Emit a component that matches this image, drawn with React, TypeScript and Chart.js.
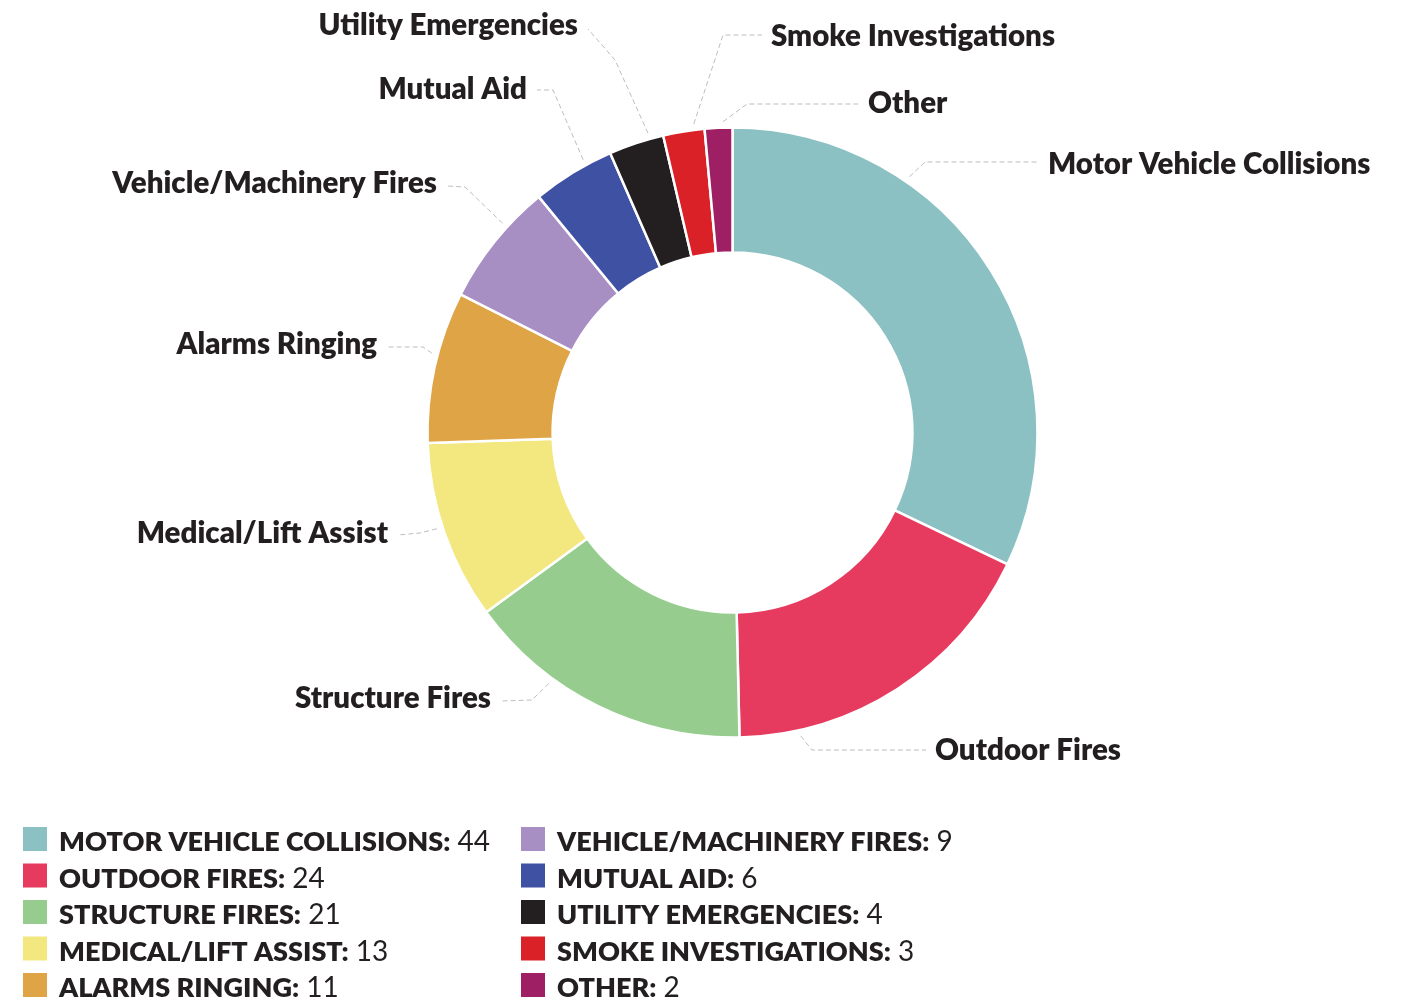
import React, { useEffect, useRef } from "react";
import { Chart, registerables } from "chart.js";

Chart.register(...registerables);

const CATEGORIES = [
  "Motor Vehicle Collisions",
  "Outdoor Fires",
  "Structure Fires",
  "Medical/Lift Assist",
  "Alarms Ringing",
  "Vehicle/Machinery Fires",
  "Mutual Aid",
  "Utility Emergencies",
  "Smoke Investigations",
  "Other",
];
const VALUES = [44, 24, 21, 13, 11, 9, 6, 4, 3, 2];
const COLORS = [
  "#8cc1c3",
  "#e63a5e",
  "#96cd8f",
  "#f3e77f",
  "#dea446",
  "#a78fc4",
  "#3e51a3",
  "#231f20",
  "#da2128",
  "#9e1f63",
];

// where along each slice (0..1) the leader line touches the ring
const ANCHOR_FRACTION = [0.3, 0.82, 0.68, 0.53, 0.58, 0.65, 0.68, 0.75, 0.76, 0.67];

// label placement relative to the doughnut centre:
// side, text edge x, text baseline y, elbow x, elbow y, line end y
type Place = { side: "left" | "right"; tx: number; by: number; ex: number; ey: number; ly: number };
const LABEL_PLACES: Place[] = [
  { side: "right", tx: 315.5, by: -258.5, ex: 192.5, ey: -270.5, ly: -270.5 },
  { side: "right", tx: 202.5, by: 327.5, ex: 79.5, ey: 317.5, ly: 317.5 },
  { side: "left", tx: -241.5, by: 275.5, ex: -200.5, ey: 267.5, ly: 268.5 },
  { side: "left", tx: -344.5, by: 110.8, ex: -312.5, ey: 100.5, ly: 102.5 },
  { side: "left", tx: -355.5, by: -78.2, ex: -309.5, ey: -85.5, ly: -85.5 },
  { side: "left", tx: -295.5, by: -239.2, ex: -267.5, ey: -245.5, ly: -246.5 },
  { side: "left", tx: -205.5, by: -333.5, ex: -179.5, ey: -342.5, ly: -342.5 },
  { side: "left", tx: -154.5, by: -397.5, ex: -117.5, ey: -372.5, ly: -403.5 },
  { side: "right", tx: 38.5, by: -386.5, ex: -9.5, ey: -397.5, ly: -397.5 },
  { side: "right", tx: 135.5, by: -319.5, ex: 14.5, ey: -328.5, ly: -328.5 },
];

const TEXT_COLOR = "#231f20";
const LABEL_FONT = "800 29.5px Lato";
const LEGEND_BOLD = "800 27px Lato";
const LEGEND_REG = "28px Lato";

const labelsPlugin = {
  id: "leaderLabels",
  afterDraw(chart: any) {
    const ctx: CanvasRenderingContext2D = chart.ctx;
    const meta = chart.getDatasetMeta(0);
    ctx.save();
    meta.data.forEach((arc: any, i: number) => {
      const { x, y, startAngle, endAngle, outerRadius } = arc.getProps(
        ["x", "y", "startAngle", "endAngle", "outerRadius"],
        true
      );
      const p = LABEL_PLACES[i];
      const a = startAngle + (endAngle - startAngle) * ANCHOR_FRACTION[i];
      const r = outerRadius + 6;
      const sx = x + Math.cos(a) * r;
      const sy = y + Math.sin(a) * r;
      const lx = x + p.tx + (p.side === "left" ? 10 : -9);
      ctx.beginPath();
      ctx.setLineDash([5, 3]);
      ctx.strokeStyle = "#bdbdbd";
      ctx.lineWidth = 1;
      ctx.moveTo(sx, sy);
      ctx.lineTo(x + p.ex, y + p.ey);
      ctx.lineTo(lx, y + p.ly);
      ctx.stroke();
      ctx.setLineDash([]);
      ctx.font = LABEL_FONT;
      ctx.fillStyle = TEXT_COLOR;
      ctx.textBaseline = "alphabetic";
      ctx.textAlign = p.side === "left" ? "right" : "left";
      ctx.fillText(CATEGORIES[i], x + p.tx, y + p.by);
    });

    // legend
    const colX = [23, 521];
    const rowBase = 851;
    const rowStep = 36.5;
    CATEGORIES.forEach((name, i) => {
      const col = Math.floor(i / 5);
      const row = i % 5;
      const bx = colX[col];
      const base = rowBase + row * rowStep;
      ctx.fillStyle = COLORS[i];
      ctx.fillRect(bx, base - 24, 24, 24);
      ctx.fillStyle = TEXT_COLOR;
      ctx.textAlign = "left";
      ctx.textBaseline = "alphabetic";
      ctx.font = LEGEND_BOLD;
      const t = name.toUpperCase() + ":";
      ctx.fillText(t, bx + 36, base);
      const w = ctx.measureText(t).width;
      ctx.font = LEGEND_REG;
      ctx.fillText(" " + VALUES[i], bx + 36 + w, base);
    });
    ctx.restore();
  },
};

export default function App() {
  const ref = useRef<HTMLCanvasElement>(null);
  useEffect(() => {
    if (!ref.current) return;
    const chart = new Chart(ref.current, {
      type: "doughnut",
      data: {
        labels: CATEGORIES,
        datasets: [
          {
            data: VALUES,
            backgroundColor: COLORS,
            borderColor: "#ffffff",
            borderWidth: 2.5,
            hoverOffset: 0,
          },
        ],
      },
      options: {
        responsive: false,
        animation: false,
        radius: 305,
        cutout: "59%",
        layout: { padding: { left: 54, right: 0, top: 0, bottom: 138 } },
        plugins: {
          legend: { display: false },
          tooltip: { enabled: false },
        },
      } as any,
      plugins: [labelsPlugin],
    });
    return () => chart.destroy();
  }, []);
  return (
    <div style={{ position: "absolute", left: 0, top: 0, width: 1411, height: 1003, background: "#fff" }}>
      <canvas ref={ref} width={1411} height={1003} style={{ width: 1411, height: 1003 }} />
    </div>
  );
}
